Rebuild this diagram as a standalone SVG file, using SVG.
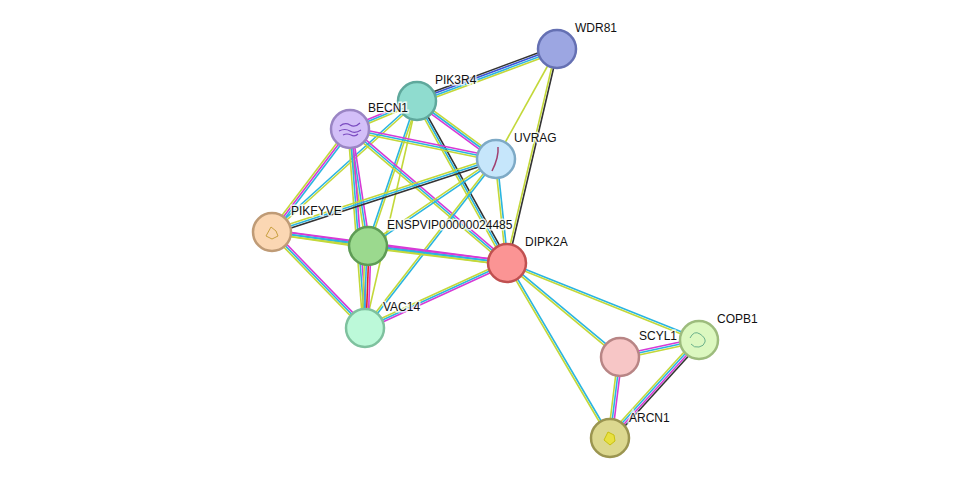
<svg xmlns="http://www.w3.org/2000/svg" xmlns:xlink="http://www.w3.org/1999/xlink" width="976" height="485" viewBox="0 0 976 485">
<style>
.yg{stroke:#c3d83a}.cy{stroke:#2ab5e0}.mg{stroke:#d63ad6}.bk{stroke:#333}.bl{stroke:#3b54d6}.rd{stroke:#e02020}
#edges use{stroke-width:1.6;fill:none}
.n circle{stroke-width:2.5}
text{font-family:"Liberation Sans",Arial,sans-serif;font-size:12px;fill:#111;paint-order:stroke;stroke:#fff;stroke-width:3px;stroke-opacity:0.8}
</style>
<defs>
<line id="e1" x1="557" y1="49" x2="417" y2="101"/>
<line id="e2" x1="557" y1="49" x2="496" y2="159"/>
<line id="e3" x1="557" y1="49" x2="507" y2="263"/>
<line id="e4" x1="417" y1="101" x2="350" y2="129"/>
<line id="e5" x1="417" y1="101" x2="496" y2="159"/>
<line id="e6" x1="417" y1="101" x2="507" y2="263"/>
<line id="e7" x1="417" y1="101" x2="368" y2="246"/>
<line id="e8" x1="417" y1="101" x2="272" y2="232"/>
<line id="e9" x1="417" y1="101" x2="365" y2="328"/>
<line id="e10" x1="350" y1="129" x2="496" y2="159"/>
<line id="e11" x1="350" y1="129" x2="507" y2="263"/>
<line id="e12" x1="350" y1="129" x2="368" y2="246"/>
<line id="e13" x1="350" y1="129" x2="272" y2="232"/>
<line id="e14" x1="350" y1="129" x2="365" y2="328"/>
<line id="e15" x1="496" y1="159" x2="272" y2="232"/>
<line id="e16" x1="496" y1="159" x2="368" y2="246"/>
<line id="e17" x1="496" y1="159" x2="507" y2="263"/>
<line id="e18" x1="496" y1="159" x2="365" y2="328"/>
<line id="e19" x1="272" y1="232" x2="368" y2="246"/>
<line id="e20" x1="272" y1="232" x2="507" y2="263"/>
<line id="e21" x1="272" y1="232" x2="365" y2="328"/>
<line id="e22" x1="368" y1="246" x2="507" y2="263"/>
<line id="e23" x1="368" y1="246" x2="365" y2="328"/>
<line id="e24" x1="365" y1="328" x2="507" y2="263"/>
<line id="e25" x1="507" y1="263" x2="699" y2="340"/>
<line id="e26" x1="507" y1="263" x2="620" y2="357"/>
<line id="e27" x1="507" y1="263" x2="610" y2="438"/>
<line id="e28" x1="620" y1="357" x2="699" y2="340"/>
<line id="e29" x1="620" y1="357" x2="610" y2="438"/>
<line id="e30" x1="699" y1="340" x2="610" y2="438"/>
</defs>
<rect width="976" height="485" fill="#fff"/>
<g id="edges">
<use href="#e1" class="yg" transform="translate(1.05,2.82)"/><use href="#e1" class="cy" transform="translate(0.35,0.94)"/><use href="#e1" class="bl" transform="translate(-0.35,-0.94)"/><use href="#e1" class="bk" transform="translate(-1.05,-2.82)"/>
<use href="#e2" class="yg"/>
<use href="#e3" class="bk" transform="translate(0.97,0.23)"/><use href="#e3" class="yg" transform="translate(-0.97,-0.23)"/>
<use href="#e4" class="yg" transform="translate(0.78,1.84)"/><use href="#e4" class="cy"/><use href="#e4" class="mg" transform="translate(-0.78,-1.84)"/>
<use href="#e5" class="yg" transform="translate(1.18,-1.62)"/><use href="#e5" class="cy"/><use href="#e5" class="mg" transform="translate(-1.18,1.62)"/>
<use href="#e6" class="bk" transform="translate(1.76,-0.98)"/><use href="#e6" class="cy"/><use href="#e6" class="yg" transform="translate(-1.76,0.98)"/>
<use href="#e7" class="yg" transform="translate(0.95,0.32)"/><use href="#e7" class="cy" transform="translate(-0.95,-0.32)"/>
<use href="#e8" class="yg" transform="translate(0.67,0.74)"/><use href="#e8" class="cy" transform="translate(-0.67,-0.74)"/>
<use href="#e9" class="yg"/>
<use href="#e10" class="mg" transform="translate(0.4,-1.96)"/><use href="#e10" class="cy"/><use href="#e10" class="yg" transform="translate(-0.4,1.96)"/>
<use href="#e11" class="mg" transform="translate(1.3,-1.52)"/><use href="#e11" class="cy"/><use href="#e11" class="yg" transform="translate(-1.3,1.52)"/>
<use href="#e12" class="mg" transform="translate(1.98,-0.3)"/><use href="#e12" class="cy"/><use href="#e12" class="yg" transform="translate(-1.98,0.3)"/>
<use href="#e13" class="cy" transform="translate(1.6,1.2)"/><use href="#e13" class="mg"/><use href="#e13" class="yg" transform="translate(-1.6,-1.2)"/>
<use href="#e14" class="mg" transform="translate(2,-0.15)"/><use href="#e14" class="cy"/><use href="#e14" class="yg" transform="translate(-2,0.15)"/>
<use href="#e15" class="bk" transform="translate(0.62,1.9)"/><use href="#e15" class="cy"/><use href="#e15" class="yg" transform="translate(-0.62,-1.9)"/>
<use href="#e16" class="cy" transform="translate(0.56,0.83)"/><use href="#e16" class="yg" transform="translate(-0.56,-0.83)"/>
<use href="#e17" class="cy" transform="translate(1,-0.1)"/><use href="#e17" class="yg" transform="translate(-1,0.1)"/>
<use href="#e18" class="cy" transform="translate(0.79,0.61)"/><use href="#e18" class="yg" transform="translate(-0.79,-0.61)"/>
<use href="#e19" class="mg" transform="translate(0.28,-1.98)"/><use href="#e19" class="cy"/><use href="#e19" class="yg" transform="translate(-0.28,1.98)"/>
<use href="#e20" class="mg" transform="translate(0.26,-1.98)"/><use href="#e20" class="cy"/><use href="#e20" class="yg" transform="translate(-0.26,1.98)"/>
<use href="#e21" class="mg" transform="translate(1.44,-1.4)"/><use href="#e21" class="cy"/><use href="#e21" class="yg" transform="translate(-1.44,1.4)"/>
<use href="#e22" class="mg" transform="translate(0.24,-1.98)"/><use href="#e22" class="cy"/><use href="#e22" class="yg" transform="translate(-0.24,1.98)"/>
<use href="#e23" class="mg" transform="translate(3,0.12)"/><use href="#e23" class="rd" transform="translate(1,0.04)"/><use href="#e23" class="cy" transform="translate(-1,-0.04)"/><use href="#e23" class="yg" transform="translate(-3,-0.12)"/>
<use href="#e24" class="mg" transform="translate(0.84,1.82)"/><use href="#e24" class="cy"/><use href="#e24" class="yg" transform="translate(-0.84,-1.82)"/>
<use href="#e25" class="cy" transform="translate(0.37,-0.93)"/><use href="#e25" class="yg" transform="translate(-0.37,0.93)"/>
<use href="#e26" class="cy" transform="translate(0.64,-0.77)"/><use href="#e26" class="yg" transform="translate(-0.64,0.77)"/>
<use href="#e27" class="cy" transform="translate(0.86,-0.51)"/><use href="#e27" class="yg" transform="translate(-0.86,0.51)"/>
<use href="#e28" class="mg" transform="translate(-0.42,-1.96)"/><use href="#e28" class="cy"/><use href="#e28" class="yg" transform="translate(0.42,1.96)"/>
<use href="#e29" class="yg" transform="translate(-2,-0.24)"/><use href="#e29" class="cy"/><use href="#e29" class="mg" transform="translate(2,0.24)"/>
<use href="#e30" class="yg" transform="translate(-2.22,-2.01)"/><use href="#e30" class="cy" transform="translate(-0.74,-0.67)"/><use href="#e30" class="mg" transform="translate(0.74,0.67)"/><use href="#e30" class="bk" transform="translate(2.22,2.01)"/>
</g>
<g id="WDR81" class="n"><circle cx="557" cy="49" r="19" fill="#9ca6e2" stroke="#6570b3"/><text x="575" y="32">WDR81</text></g>
<g id="PIK3R4" class="n"><circle cx="417" cy="101" r="19" fill="#8fdccf" stroke="#5fa89c"/><text x="435" y="84">PIK3R4</text></g>
<g id="BECN1" class="n"><circle cx="350" cy="129" r="19" fill="#d3bff8" stroke="#9a85c4"/><path d="M340 126q5-4 10-1t10-2M339 131q6-3 11 0t11-1M343 135q4-2 8 0t7-1" stroke="#7a4ac0" fill="none" stroke-width="1.2"/><text x="368" y="112">BECN1</text></g>
<g id="UVRAG" class="n"><circle cx="496" cy="159" r="19" fill="#c6e6fb" stroke="#7eaac6"/><path d="M498 147q1 10-6 24" stroke="#a04070" fill="none" stroke-width="1.5"/><text x="514" y="142">UVRAG</text></g>
<g id="PIKFYVE" class="n"><circle cx="272" cy="232" r="19" fill="#fbd7b3" stroke="#bf9b76"/><path d="M266 236l5-9 5 4 2 5-6 3z" stroke="#c8a040" fill="none" stroke-width="1"/><text x="291" y="215">PIKFYVE</text></g>
<g id="ENSPVIP00000024485" class="n"><circle cx="368" cy="246" r="19" fill="#9bd98e" stroke="#5e9c55"/><text x="387" y="229">ENSPVIP00000024485</text></g>
<g id="DIPK2A" class="n"><circle cx="507" cy="263" r="19" fill="#fb9494" stroke="#c05050"/><text x="525" y="246">DIPK2A</text></g>
<g id="VAC14" class="n"><circle cx="365" cy="328" r="19" fill="#bcf9d9" stroke="#7ec19e"/><text x="383" y="311">VAC14</text></g>
<g id="SCYL1" class="n"><circle cx="620" cy="357" r="19" fill="#f7c6c6" stroke="#b88585"/><text x="639" y="340">SCYL1</text></g>
<g id="COPB1" class="n"><circle cx="699" cy="340" r="19" fill="#dcf8c0" stroke="#9dbc7d"/><path d="M690 338q4-8 10-4t5 8-6 5-8-3" stroke="#6ab08a" fill="none" stroke-width="1"/><text x="717" y="323">COPB1</text></g>
<g id="ARCN1" class="n"><circle cx="610" cy="438" r="19" fill="#dcd88f" stroke="#9b9550"/><path d="M604 440l4-8 6 3 1 6-5 4z" stroke="#c8c010" fill="#e8e040" stroke-width="1"/><text x="629" y="422">ARCN1</text></g>
</svg>
